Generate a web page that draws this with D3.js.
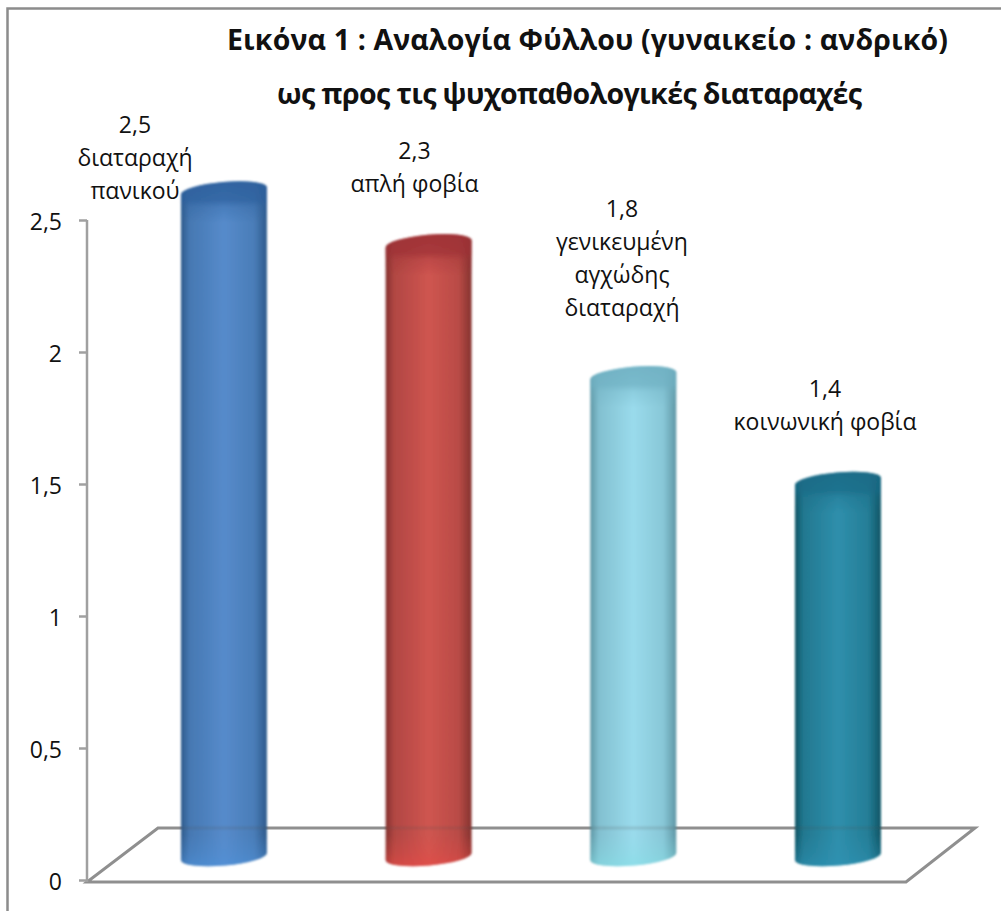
<!DOCTYPE html>
<html lang="el">
<head>
<meta charset="utf-8">
<title>Αναλογία Φύλλου</title>
<script src="https://cdn.jsdelivr.net/npm/d3@7/dist/d3.min.js"></script>
<style>
html,body{margin:0;padding:0;background:#fff}
svg{display:block}
text{font-family:"Open Sans","Noto Sans",sans-serif;fill:#111}
</style>
</head>
<body>
<div id="chart"></div>
<script>
// Chart content
const titleLines = ["Εικόνα 1 : Αναλογία Φύλλου (γυναικείο : ανδρικό)", "ως προς τις ψυχοπαθολογικές διαταραχές"];
const disorders = ["διαταραχή πανικού", "απλή φοβία", "γενικευμένη αγχώδης διαταραχή", "κοινωνική φοβία"];
const ratios = [2.5, 2.3, 1.8, 1.4];
const labelLines = [["2,5", "διαταραχή", "πανικού"], ["2,3", "απλή φοβία"], ["1,8", "γενικευμένη", "αγχώδης", "διαταραχή"], ["1,4", "κοινωνική φοβία"]];
const axisTicks = [0, 0.5, 1, 1.5, 2, 2.5];
const shades = [
  {edge:"#2f5b8c", mid:"#568bcb", cap:"#2c5f9c", foot:"#4f93dc"},
  {edge:"#84322f", mid:"#cf5550", cap:"#9c3035", foot:"#ea4a45"},
  {edge:"#5f97a5", mid:"#9adbec", cap:"#6fb0c2", foot:"#85dfe6"},
  {edge:"#0f5565", mid:"#2f8fac", cap:"#1a6a86", foot:"#2f93b5"}
];

const width = 1001, height = 911;
const svg = d3.select("#chart").append("svg").attr("width", width).attr("height", height);
const defs = svg.append("defs");

// Plot geometry: the value axis runs on the front wall, bars stand further back on the floor
const y = d3.scaleLinear().domain([0, 2.5]).range([880, 220]);
const x = d3.scaleBand().domain(disorders).range([121.6, 940.3]).paddingInner(0.58).paddingOuter(0.29);
const topOffset = 29, footOffset = 23.5;
const floor = {frontL:87, frontR:906, frontY:882, backL:158, backR:975, backY:828};
const tiltDeg = 5, capRy = 9;

defs.append("filter").attr("id", "soft").attr("x", "-10%").attr("y", "-5%").attr("width", "120%").attr("height", "110%")
  .append("feGaussianBlur").attr("stdDeviation", 1);

shades.forEach((s, i) => {
  const g = defs.append("linearGradient").attr("id", "body" + i);
  [[0, s.edge], [0.1, d3.interpolateRgb(s.edge, s.mid)(0.6)], [0.5, s.mid], [0.85, d3.interpolateRgb(s.edge, s.mid)(0.7)], [1, s.edge]]
    .forEach(([o, c]) => g.append("stop").attr("offset", o).attr("stop-color", c));
});

// Frame around the whole chart
svg.append("rect").attr("x", 7.5).attr("y", 8.5).attr("width", 1000).attr("height", 920)
  .attr("fill", "none").attr("stroke", "#8c8c8c").attr("stroke-width", 2.5);

// Floor parallelogram
svg.append("path")
  .attr("d", `M${floor.frontL},${floor.frontY}L${floor.frontR},${floor.frontY}L${floor.backR},${floor.backY}L${floor.backL},${floor.backY}Z`)
  .attr("fill", "none").attr("stroke", "#8f8f8f").attr("stroke-width", 3).attr("stroke-linejoin", "miter");

// Value axis
const axis = d3.axisLeft(y).tickValues(axisTicks).tickSize(8).tickPadding(17)
  .tickFormat(d => String(d).replace(".", ","));
const axisG = svg.append("g").attr("transform", "translate(87,0)").call(axis);
axisG.selectAll("line,path").attr("stroke", "#a0a0a0").attr("stroke-width", 2.5);
axisG.select(".domain").attr("d", `M0,${y(2.5)}V${y(0) + 2}`);
axisG.selectAll("text").attr("font-size", 23).attr("fill", "#111").attr("dy", "0.42em")
  .attr("font-family", '"Open Sans","Noto Sans",sans-serif');

// Cylinders: a horizontally shaded body, darkened near the rim and brightened near the foot
const bars = svg.append("g").attr("filter", "url(#soft)");
ratios.forEach((v, i) => {
  const cx = x(disorders[i]) + x.bandwidth() / 2;
  const rx = x.bandwidth() / 2;
  const dy = rx * Math.tan(tiltDeg * Math.PI / 180);
  const top = y(v) - topOffset;
  const bot = y(0) - footOffset;
  const outline = `M${cx - rx},${top + dy}A${rx},${capRy} ${-tiltDeg} 0 1 ${cx + rx},${top - dy}L${cx + rx},${bot - dy}A${rx},${capRy} ${-tiltDeg} 0 1 ${cx - rx},${bot + dy}Z`;
  const rim = defs.append("linearGradient").attr("id", "rim" + i).attr("gradientUnits", "userSpaceOnUse")
    .attr("x1", 0).attr("x2", 0).attr("y1", top - 10).attr("y2", top + 32);
  [[0, 0.9], [0.45, 0.75], [0.62, 0.3], [1, 0]].forEach(([o, a]) =>
    rim.append("stop").attr("offset", o).attr("stop-color", shades[i].cap).attr("stop-opacity", a));
  const foot = defs.append("linearGradient").attr("id", "foot" + i).attr("gradientUnits", "userSpaceOnUse")
    .attr("x1", 0).attr("x2", 0).attr("y1", bot - 22).attr("y2", bot + 10);
  [[0, 0], [0.6, 0.3], [1, 0.6]].forEach(([o, a]) =>
    foot.append("stop").attr("offset", o).attr("stop-color", shades[i].foot).attr("stop-opacity", a));
  const g = bars.append("g");
  g.append("path").attr("d", outline).attr("fill", `url(#body${i})`);
  g.append("path").attr("d", outline).attr("fill", `url(#rim${i})`);
  g.append("path").attr("d", outline).attr("fill", `url(#foot${i})`);
  // The back edge of the floor shows faintly through the translucent body
  g.append("line").attr("x1", cx - rx).attr("x2", cx + rx).attr("y1", floor.backY).attr("y2", floor.backY)
    .attr("stroke", "#555").attr("stroke-opacity", 0.18).attr("stroke-width", 3);
});

// Value and category labels above each cylinder
const labelBottom = [199, 192, 316, 430];
const lineStep = 33;
const labelX = [135, 414.5, 622, 825];
labelLines.forEach((lines, i) => {
  const t = svg.append("text").attr("text-anchor", "middle").attr("font-size", 23);
  lines.forEach((ln, k) => {
    t.append("tspan").attr("x", labelX[i]).attr("y", labelBottom[i] - (lines.length - 1 - k) * lineStep).text(ln);
  });
});

// Title
const titleX = [587.5, 569.5], titleLen = [721, 585];
titleLines.forEach((ln, k) => {
  svg.append("text").attr("x", titleX[k]).attr("y", 50 + k * 54).attr("text-anchor", "middle")
    .attr("font-size", 28.5).attr("font-weight", 700).attr("fill", "#000")
    .attr("textLength", titleLen[k]).attr("lengthAdjust", "spacing").text(ln);
});
</script>
</body>
</html>
